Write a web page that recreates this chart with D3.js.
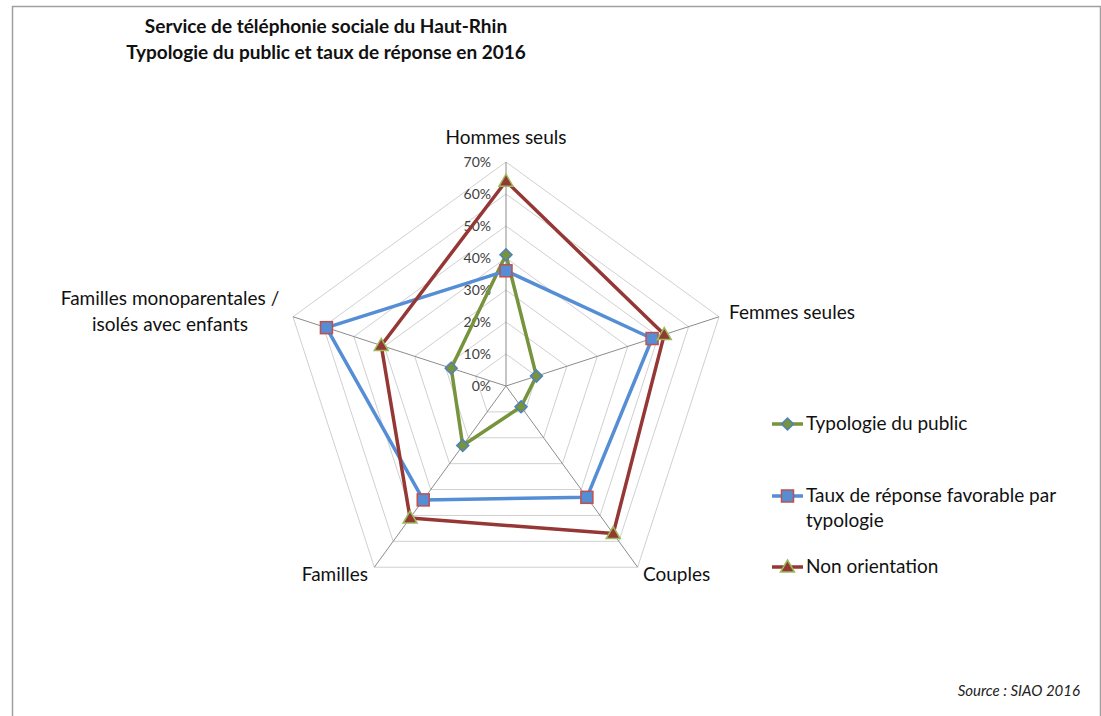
<!DOCTYPE html>
<html>
<head>
<meta charset="utf-8">
<script src="https://cdn.jsdelivr.net/npm/d3@7"></script>
<style>
  body { margin: 0; background: #fff; }
  svg { font-family: Lato, "Open Sans", sans-serif; }
</style>
</head>
<body>
<svg id="chart" width="1101" height="716"></svg>
<script>
// data
const categories = ["Hommes seuls", "Femmes seules", "Couples", "Familles", "Familles monoparentales / isolés avec enfants"];
const typologie = [0.41, 0.10, 0.08, 0.23, 0.18];
const tauxFavorable = [0.36, 0.48, 0.43, 0.44, 0.59];
const nonOrientation = [0.64, 0.52, 0.57, 0.51, 0.41];
const tickValues = [0, 0.1, 0.2, 0.3, 0.4, 0.5, 0.6, 0.7];

const series = [
  { name: "Typologie du public", values: typologie, color: "#77933c", marker: "diamond", fill: "#77933c", stroke: "#4f81bd" },
  { name: "Taux de réponse favorable par typologie", values: tauxFavorable, color: "#558ed5", marker: "square", fill: "#558ed5", stroke: "#c0504d" },
  { name: "Non orientation", values: nonOrientation, color: "#953735", marker: "triangle", fill: "#953735", stroke: "#9bbb59" }
];

const svg = d3.select("#chart");
const cx = 506, cy = 386, radius = 224;

const r = d3.scaleLinear().domain([0, 0.7]).range([0, radius]);
const angle = d3.scaleLinear().domain([0, categories.length]).range([0, 2 * Math.PI]);

function pt(i, v) {
  const a = angle(i);
  return [cx + r(v) * Math.sin(a), cy - r(v) * Math.cos(a)];
}

// frame
svg.append("path")
  .attr("d", "M12.5,716 L12.5,6.5 L1100.5,6.5 L1100.5,716")
  .attr("fill", "none")
  .attr("stroke", "#a0a0a0")
  .attr("stroke-width", 1.5);

// title
const title = svg.append("text")
  .attr("text-anchor", "middle")
  .attr("font-weight", "bold")
  .attr("font-size", 19)
  .attr("fill", "#111");
title.append("tspan").attr("x", 326).attr("y", 33).text("Service de téléphonie sociale du Haut-Rhin");
title.append("tspan").attr("x", 326).attr("y", 59).text("Typologie du public et taux de réponse en 2016");

// grid pentagons
const line = d3.line();
tickValues.slice(1).forEach(t => {
  const pts = categories.map((c, i) => pt(i, t));
  svg.append("path")
    .attr("d", line(pts) + "Z")
    .attr("fill", "none")
    .attr("stroke", "#d0d0d0")
    .attr("stroke-width", 1);
});

// spokes
categories.forEach((c, i) => {
  svg.append("path")
    .attr("d", line([pt(i, 0), pt(i, 0.7)]))
    .attr("stroke", "#8c8c8c")
    .attr("stroke-width", 1);
});

// tick labels
svg.append("g").selectAll("text")
  .data(tickValues).enter()
  .append("text")
  .attr("x", cx - 15)
  .attr("y", d => cy - r(d) + 5)
  .attr("text-anchor", "end")
  .attr("font-size", 14)
  .attr("fill", "#404040")
  .text(d => d3.format(".0%")(d));

// category labels
const catLabels = [
  { lines: ["Hommes seuls"], x: 506, y: 144, anchor: "middle" },
  { lines: ["Femmes seules"], x: 729, y: 319, anchor: "start" },
  { lines: ["Couples"], x: 643, y: 581, anchor: "start" },
  { lines: ["Familles"], x: 368, y: 581, anchor: "end" },
  { lines: ["Familles monoparentales /", "isolés avec enfants"], x: 170, y: 305, anchor: "middle" }
];
catLabels.forEach(l => {
  const t = svg.append("text")
    .attr("text-anchor", l.anchor)
    .attr("font-size", 19)
    .attr("fill", "#111");
  l.lines.forEach((s, k) => t.append("tspan").attr("x", l.x).attr("y", l.y + k * 26).text(s));
});

// markers
function drawMarker(g, type, x, y, s) {
  if (type === "diamond") {
    g.append("path")
      .attr("d", `M${x},${y - 6}L${x + 6},${y}L${x},${y + 6}L${x - 6},${y}Z`)
      .attr("fill", s.fill).attr("stroke", s.stroke).attr("stroke-width", 1.5);
  } else if (type === "square") {
    g.append("rect")
      .attr("x", x - 6).attr("y", y - 6).attr("width", 12).attr("height", 12)
      .attr("fill", s.fill).attr("stroke", s.stroke).attr("stroke-width", 1.5);
  } else {
    g.append("path")
      .attr("d", `M${x},${y - 7}L${x + 7},${y + 5}L${x - 7},${y + 5}Z`)
      .attr("fill", s.fill).attr("stroke", s.stroke).attr("stroke-width", 1.5);
  }
}

// series lines
series.forEach(s => {
  const pts = s.values.map((v, i) => pt(i, v));
  svg.append("path")
    .attr("d", line(pts) + "Z")
    .attr("fill", "none")
    .attr("stroke", s.color)
    .attr("stroke-width", 3.5)
    .attr("stroke-linejoin", "round");
});
series.forEach(s => {
  const g = svg.append("g");
  s.values.forEach((v, i) => {
    const p = pt(i, v);
    drawMarker(g, s.marker, p[0], p[1], s);
  });
});

// legend
const legendItems = [
  { s: series[0], y: 424, lines: ["Typologie du public"] },
  { s: series[1], y: 496, lines: ["Taux de réponse favorable par", "typologie"] },
  { s: series[2], y: 567, lines: ["Non orientation"] }
];
legendItems.forEach(item => {
  const g = svg.append("g");
  g.append("line")
    .attr("x1", 772).attr("x2", 803)
    .attr("y1", item.y).attr("y2", item.y)
    .attr("stroke", item.s.color).attr("stroke-width", 3.5);
  drawMarker(g, item.s.marker, 787.5, item.y, item.s);
  const t = g.append("text").attr("font-size", 19).attr("fill", "#111");
  item.lines.forEach((s, k) => t.append("tspan").attr("x", 806).attr("y", item.y + 6 + k * 25).text(s));
});

// source
svg.append("text")
  .attr("x", 1080).attr("y", 696)
  .attr("text-anchor", "end")
  .attr("font-size", 15)
  .attr("font-style", "italic")
  .attr("fill", "#222")
  .text("Source : SIAO 2016");
</script>
</body>
</html>
